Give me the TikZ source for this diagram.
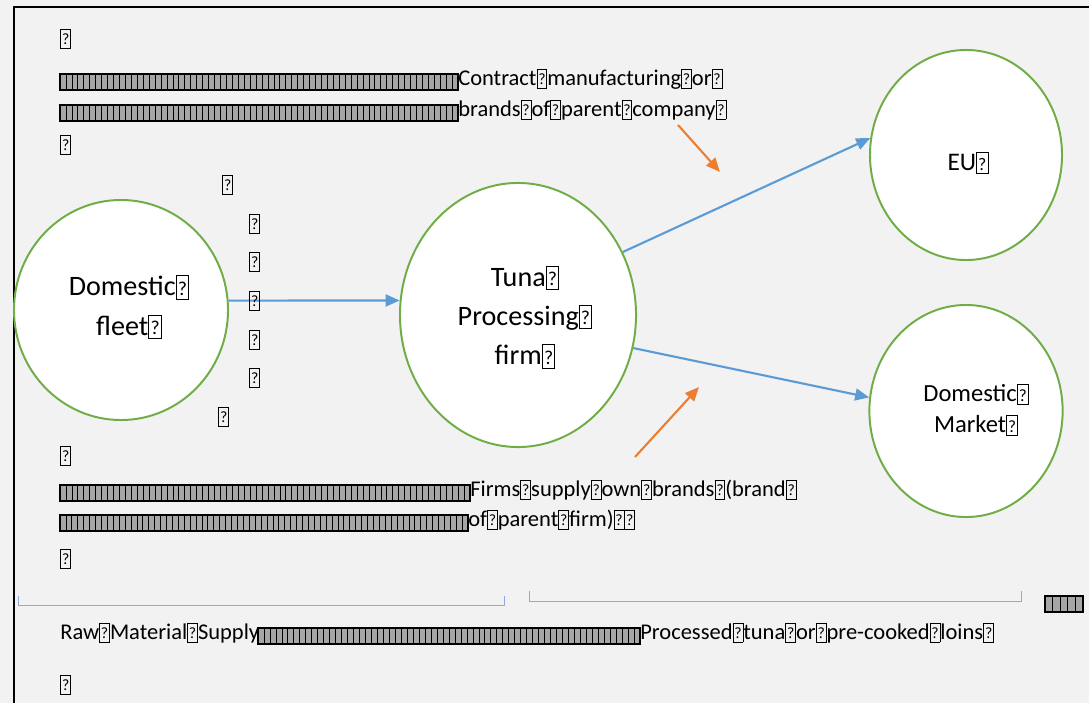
\documentclass[tikz,border=0pt]{standalone}
\usepackage{fontspec}
\setmainfont{Carlito}
\usepackage{graphicx}
\usetikzlibrary{shapes.geometric,arrows.meta}

\definecolor{bgGray}{HTML}{F2F2F2}
\definecolor{ovalGreen}{HTML}{70AD47}
\definecolor{flowBlue}{HTML}{5B9BD5}
\definecolor{noteOrange}{HTML}{ED7D31}
\definecolor{braceBlue}{HTML}{8FAADC}

% missing-glyph box, as the picture prints it
\newcommand{\gb}{{\setlength{\fboxsep}{0pt}\setlength{\fboxrule}{0.6pt}%
  \raisebox{-0.1em}{\framebox[0.48em][c]{\rule{0pt}{0.8em}\raisebox{0.12em}{\scalebox{0.7}{?}}}}}}
% a row of narrow glyph boxes: x1, x2, y, number of inner strokes
\newcommand{\glyphrun}[4]{%
  \draw[runline, fill=gray!70] (#1,#3-8) rectangle (#2,#3+8);
  \foreach \k in {1,...,#4} \draw[runline] ({#1+(#2-#1)/(#4+1)*\k},#3-8) -- ++(0,16);
  \draw[line width=0.9pt] (#1,#3-8) rectangle (#2,#3+8);
}

\begin{document}
\begin{tikzpicture}[x=0.025cm, y=-0.025cm,
    oval/.style={ellipse, draw=ovalGreen, line width=1.4pt, fill=white, inner sep=0pt},
    ovaltext/.style={align=center, inner sep=0pt},
    flow/.style={-{Triangle[length=10pt,width=8.5pt]}, draw=flowBlue, line width=1.5pt},
    hint/.style={-{Triangle[length=10pt,width=8.5pt]}, draw=noteOrange, line width=1.5pt},
    brace/.style={draw=braceBlue, line width=0.7pt},
    body/.style={anchor=mid west, inner sep=0pt, font=\fontsize{16}{21}\selectfont},
    runline/.style={line width=0.5pt}]

    % =================================================================
    % 1. BACKGROUND AND FRAME
    % =================================================================
    \fill[bgGray] (0,0) rectangle (1089,703);
    \useasboundingbox (0,0) rectangle (1089,703);
    \draw[line width=1.6pt] (14,703) -- (14,7) -- (1089,7);

    % =================================================================
    % 2. THE FOUR OVALS
    % =================================================================
    \node[oval, minimum width=5.35cm, minimum height=5.5cm] (fleet) at (121,310) {};
    \node[oval, minimum width=5.9cm, minimum height=6.6cm] (tuna) at (518,315) {};
    \node[oval, minimum width=4.8cm, minimum height=5.25cm] (eu) at (966,155) {};
    \node[oval, minimum width=4.83cm, minimum height=5.3cm] (market) at (966,411) {};

    \node[ovaltext, font=\fontsize{20}{28}\selectfont] (fleetText) at (129,307) {Domestic\gb\\fleet\gb};
    \node[ovaltext, font=\fontsize{20}{28}\selectfont] (tunaText) at (525,317) {Tuna\gb\\Processing\gb\\firm\gb};
    \node[ovaltext, font=\fontsize{18}{22}\selectfont] (euText) at (968,163) {EU\gb};
    \node[ovaltext, font=\fontsize{17.5}{22}\selectfont] (marketText) at (976,410) {Domestic\gb\\Market\gb};

    % =================================================================
    % 3. FLOWS AND POINTERS
    % =================================================================
    \draw[flow] (fleet.5) -- (tuna.173);
    \draw[flow] (tuna.31) -- (eu.170);
    \draw[flow] (tuna.-16) -- (market.172);

    \coordinate (topHint) at (678,125);
    \coordinate (topHintEnd) at (720,172);
    \coordinate (botHint) at (635,457);
    \coordinate (botHintEnd) at (699,387);
    \draw[hint] (topHint) -- (topHintEnd);
    \draw[hint] (botHint) -- (botHintEnd);

    % =================================================================
    % 4. TEXT ABOVE
    % =================================================================
    \node[body] (pmA) at (60,42) {\gb};
    \glyphrun{60}{458}{82}{66}
    \node[body] (contract) at (458,82) {Contract\gb manufacturing\gb or\gb};
    \glyphrun{60}{458}{113}{66}
    \node[body] (brands) at (458,113) {brands\gb of\gb parent\gb company\gb};
    \node[body] (pmB) at (60,148) {\gb};

    % column of marks beside the fleet
    \foreach \x/\y [count=\i] in {222/188, 249/227, 249/265, 249/304, 249/343, 249/381, 218/420}
        \node[body] (gap\i) at (\x,\y) {\gb};

    % =================================================================
    % 5. TEXT BELOW AND BRACKETS
    % =================================================================
    \node[body] (pmC) at (60,459) {\gb};
    \glyphrun{60}{470}{493}{68}
    \node[body] (firms) at (470,493) {Firms\gb supply\gb own\gb brands\gb (brand\gb};
    \glyphrun{60}{468}{523}{68}
    \node[body] (parent) at (468,523) {of\gb parent\gb firm)\gb\gb};
    \node[body] (pmD) at (60,562) {\gb};

    \draw[brace] (18,596) -- (18,605) -- (504,605) -- (504,596);
    \draw[brace] (529,591) -- (529,601) -- (1021,601) -- (1021,591);
    \glyphrun{1045}{1083}{604}{4}

    \node[body] (raw) at (60,636) {Raw\gb Material\gb Supply};
    \glyphrun{258}{640}{636}{63}
    \node[body] (processed) at (640,636) {Processed\gb tuna\gb or\gb pre-cooked\gb loins\gb};
    \node[body] (pmE) at (60,688) {\gb};

\end{tikzpicture}
\end{document}
